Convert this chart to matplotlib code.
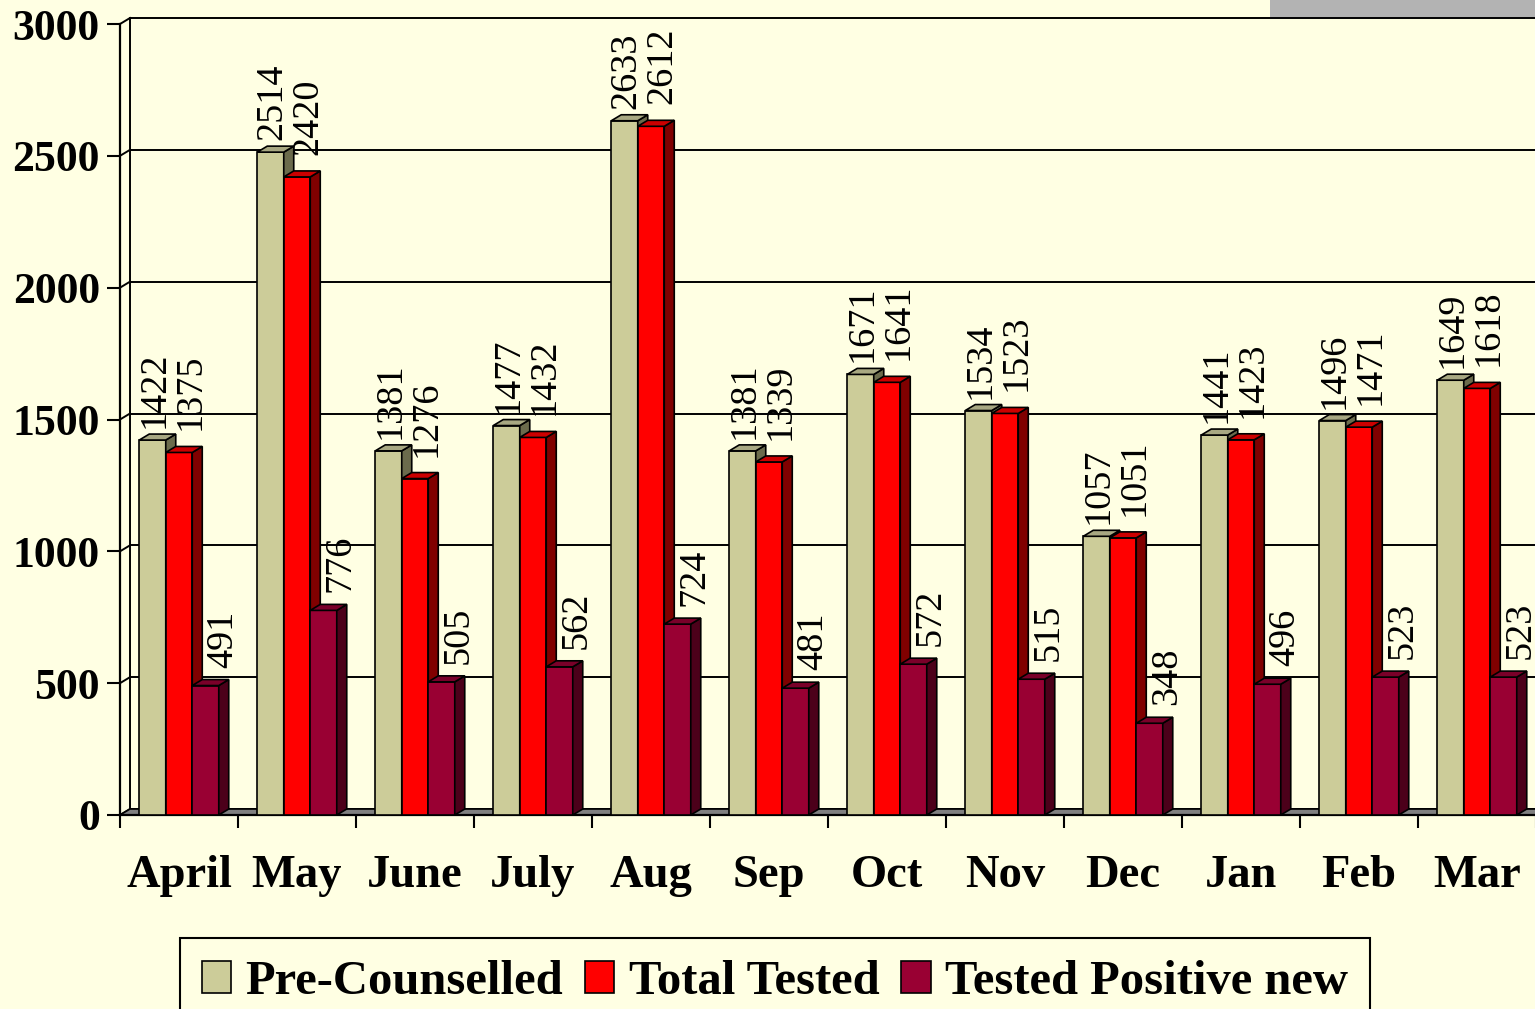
import matplotlib
matplotlib.use('Agg')
import matplotlib.pyplot as plt
from matplotlib.patches import Polygon, Rectangle, Patch
from matplotlib.font_manager import FontProperties
import numpy as np

# ---------------- data ----------------
months = ['April', 'May', 'June', 'July', 'Aug', 'Sep', 'Oct', 'Nov', 'Dec', 'Jan', 'Feb', 'Mar']
pre_counselled = [1422, 2514, 1381, 1477, 2633, 1381, 1671, 1534, 1057, 1441, 1496, 1649]
total_tested = [1375, 2420, 1276, 1432, 2612, 1339, 1641, 1523, 1051, 1423, 1471, 1618]
tested_positive = [491, 776, 505, 562, 724, 481, 572, 515, 348, 496, 523, 523]
series_names = ['Pre-Counselled', 'Total Tested', 'Tested Positive new']
y_ticks = [0, 500, 1000, 1500, 2000, 2500, 3000]

# ---------------- style ----------------
W, H, DPI = 1535, 1009, 100
BG = '#FFFFE3'
front_cols = ['#CCCC99', '#FF0000', '#990033']
top_cols = ['#A8A882', '#CC0000', '#7A0029']
side_cols = ['#6B6B4C', '#800000', '#4C001A']
SERIF = ['Liberation Serif', 'DejaVu Serif']
EDGE_LW = 1.2
GRID_LW = 1.4

fig = plt.figure(figsize=(W / DPI, H / DPI), dpi=DPI, facecolor=BG)
ax_left_px, ax_w_px = 120, 1416
ax_bot_px, ax_h_px = 815, 791
ax = fig.add_axes([ax_left_px / W, (H - ax_bot_px) / H, ax_w_px / W, ax_h_px / H])
ax.set_facecolor(BG)
ncat = len(months)
ymax = y_ticks[-1]
ax.set_xlim(0, ncat)
ax.set_ylim(0, ymax)

# 3D depth, converted from pixels to data units
depth_dx_px, depth_dy_px = 10, 6
dxd = depth_dx_px / (ax_w_px / ncat)
dyd = depth_dy_px / (ax_h_px / ymax)

# floor
ax.add_patch(Polygon([(0, 0), (ncat, 0), (ncat + dxd, dyd), (dxd, dyd)],
                     closed=True, facecolor='#808080', edgecolor='black',
                     lw=EDGE_LW, zorder=1.5, clip_on=False))

# back-wall gridlines and side-wall diagonals
for v in y_ticks:
    ax.plot([dxd, ncat + dxd + 1], [v + dyd, v + dyd], color='black', lw=GRID_LW,
            zorder=1, clip_on=False, solid_capstyle='butt')
    ax.plot([0, dxd], [v, v + dyd], color='black', lw=GRID_LW, zorder=1, clip_on=False)
ax.plot([dxd, dxd], [dyd, ymax + dyd], color='black', lw=GRID_LW, zorder=1, clip_on=False)

# bars
series = [pre_counselled, total_tested, tested_positive]
bw = 0.2246
offsets = [-bw, 0.0, bw]
label_dx = [2, 11, 17]
label_dy = [12, 22, 18]
x = np.arange(ncat) + 0.5
for k, vals in enumerate(series):
    xs = x + offsets[k]
    zf = 3 + 2 * k
    ax.bar(xs, vals, bw, color=front_cols[k], edgecolor='black', lw=EDGE_LW, zorder=zf)
    for xc, v in zip(xs, vals):
        x0, x1 = xc - bw / 2, xc + bw / 2
        ax.add_patch(Polygon([(x1, 0), (x1 + dxd, dyd), (x1 + dxd, v + dyd), (x1, v)],
                             closed=True, facecolor=side_cols[k], edgecolor='black',
                             lw=EDGE_LW, zorder=zf + 0.5, clip_on=False))
        ax.add_patch(Polygon([(x0, v), (x1, v), (x1 + dxd, v + dyd), (x0 + dxd, v + dyd)],
                             closed=True, facecolor=top_cols[k], edgecolor='black',
                             lw=EDGE_LW, zorder=zf + 0.5, clip_on=False))
        ax.annotate(str(v), xy=(xc, v), xytext=(label_dx[k], label_dy[k]),
                    textcoords='offset pixels', rotation=90, ha='center', va='bottom',
                    fontsize=27.5, family=SERIF, color='black', zorder=2.5,
                    annotation_clip=False)

# axes, ticks
for s in ['top', 'right']:
    ax.spines[s].set_visible(False)
for s in ['left', 'bottom']:
    ax.spines[s].set_linewidth(1.6)
    ax.spines[s].set_zorder(2)

ax.set_yticks(y_ticks)
ax.set_yticklabels([str(t) for t in y_ticks], fontsize=31.5, fontweight='bold', family=SERIF)
ax.tick_params(axis='y', length=9.5, width=1.5, direction='out', pad=5)

ax.set_xticks(np.arange(ncat + 1))
ax.set_xticklabels([])
ax.tick_params(axis='x', which='major', length=9.5, width=1.5, direction='out')
ax.set_xticks(x, minor=True)
ax.set_xticklabels(months, minor=True, fontsize=33.5, fontweight='bold', family=SERIF)
ax.tick_params(axis='x', which='minor', length=0, pad=29)

# legend
handles = [Patch(facecolor=c, edgecolor='black', lw=EDGE_LW) for c in front_cols]
leg = fig.legend(handles, series_names, loc='upper left',
                 bbox_to_anchor=(180 / W, 1 - 938 / H), ncol=3,
                 prop=FontProperties(family=SERIF, weight='bold', size=35),
                 frameon=True, fancybox=False, edgecolor='black', facecolor=BG,
                 framealpha=1, handlelength=0.6, handleheight=0.62,
                 handletextpad=0.3, columnspacing=0.45, borderpad=0.45,
                 borderaxespad=0)
leg.get_frame().set_linewidth(1.5)

# slide decoration at top right
fig.add_artist(Rectangle((1270 / W, 1 - 17 / H), 265 / W, 17 / H,
                         transform=fig.transFigure, facecolor='#B3B3B3',
                         edgecolor='none', zorder=0))

fig.savefig('out.png', dpi=DPI, facecolor=BG)
